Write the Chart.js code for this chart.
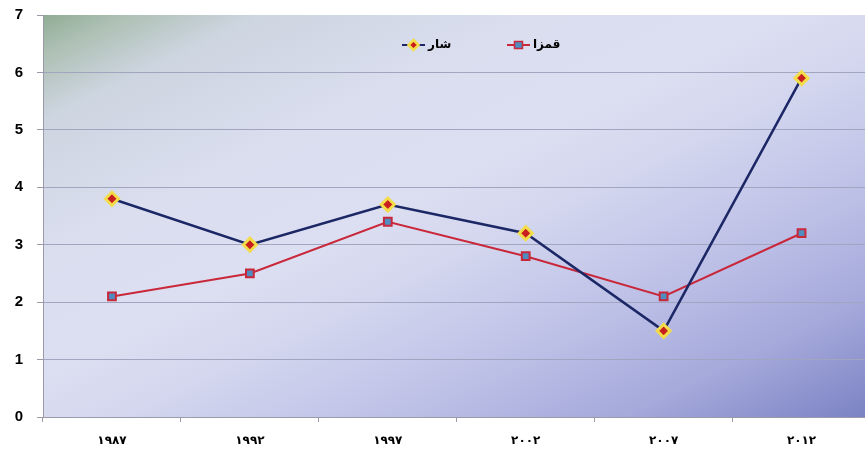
<!DOCTYPE html>
<html>
<head>
<meta charset="utf-8">
<script src="https://cdn.jsdelivr.net/npm/chart.js@4/dist/chart.umd.min.js"></script>
<style>
  html, body { margin: 0; padding: 0; background: #ffffff; overflow: hidden; }
  #wrap { width: 865px; height: 452px; overflow: hidden; position: relative; }
  #box { width: 880px; height: 452px; position: absolute; left: 0; top: 0; }
</style>
</head>
<body>
<div id="wrap"><div id="box"><canvas id="c"></canvas></div></div>
<script>
const categories = ['۱۹۸۷', '۱۹۹۲', '۱۹۹۷', '۲۰۰۲', '۲۰۰۷', '۲۰۱۲'];
const sharLabel = 'شار';
const sharValues = [3.8, 3.0, 3.7, 3.2, 1.5, 5.9];
const qamzaLabel = 'قمزا';
const qamzaValues = [2.1, 2.5, 3.4, 2.8, 2.1, 3.2];
const yMin = 0, yMax = 7, yStep = 1;

const NAVY = '#1c2766';
const RED = '#c8283a';
const YELLOW = '#f3dc4a';
const MARK_RED = '#c81e1e';
const STEEL = '#4f8cc0';

const bgPlugin = {
  id: 'bgPlugin',
  beforeDraw(chart) {
    const { ctx, chartArea: a } = chart;
    const W = a.right - a.left, H = a.bottom - a.top;
    const cx = a.left + W / 2, cy = a.top + H / 2;
    const k = W * H / (W * W + H * H);
    const g = ctx.createLinearGradient(cx - k * H, cy - k * W, cx + k * H, cy + k * W);
    g.addColorStop(0, '#8fac94');
    g.addColorStop(0.05, '#aec0b4');
    g.addColorStop(0.13, '#cdd5e0');
    g.addColorStop(0.3, '#dadeef');
    g.addColorStop(0.45, '#dcdff1');
    g.addColorStop(0.55, '#d3d6ee');
    g.addColorStop(0.7, '#bfc2e7');
    g.addColorStop(0.85, '#a5a9db');
    g.addColorStop(1, '#7b82c3');
    ctx.save();
    ctx.fillStyle = g;
    ctx.fillRect(a.left, a.top, W, H);
    ctx.restore();
  }
};

const legendPlugin = {
  id: 'legendPlugin',
  afterDraw(chart) {
    const { ctx } = chart;
    const items = [
      { label: sharLabel, x: 402, line: NAVY, style: 'diamond' },
      { label: qamzaLabel, x: 507, line: RED, style: 'square' }
    ];
    const y = 45;
    ctx.save();
    items.forEach(it => {
      ctx.strokeStyle = it.line;
      ctx.lineWidth = 2;
      ctx.beginPath();
      ctx.moveTo(it.x, y);
      ctx.lineTo(it.x + 23, y);
      ctx.stroke();
      const mx = it.x + 11.5;
      if (it.style === 'diamond') {
        ctx.beginPath();
        ctx.moveTo(mx, y - 5); ctx.lineTo(mx + 5, y); ctx.lineTo(mx, y + 5); ctx.lineTo(mx - 5, y); ctx.closePath();
        ctx.fillStyle = MARK_RED; ctx.fill();
        ctx.lineWidth = 2.5; ctx.strokeStyle = YELLOW; ctx.stroke();
      } else {
        ctx.fillStyle = STEEL;
        ctx.fillRect(mx - 4, y - 3.5, 8, 7);
        ctx.lineWidth = 1.5; ctx.strokeStyle = RED;
        ctx.strokeRect(mx - 4, y - 3.5, 8, 7);
      }
      ctx.fillStyle = '#000';
      ctx.font = 'bold 12px "DejaVu Sans"';
      ctx.textBaseline = 'middle';
      ctx.textAlign = 'left';
      ctx.fillText(it.label, it.x + 26, y);
    });
    ctx.restore();
  }
};

new Chart(document.getElementById('c'), {
  type: 'line',
  data: {
    labels: categories,
    datasets: [
      {
        label: sharLabel,
        data: sharValues,
        borderColor: NAVY,
        borderWidth: 2.5,
        pointStyle: 'rectRot',
        pointRadius: 6.5,
        pointBackgroundColor: MARK_RED,
        pointBorderColor: YELLOW,
        pointBorderWidth: 3,
        tension: 0,
        order: 0
      },
      {
        label: qamzaLabel,
        data: qamzaValues,
        borderColor: RED,
        borderWidth: 2,
        pointStyle: 'rect',
        pointRadius: 5.5,
        pointBackgroundColor: STEEL,
        pointBorderColor: RED,
        pointBorderWidth: 2,
        tension: 0,
        order: 1
      }
    ]
  },
  options: {
    responsive: true,
    maintainAspectRatio: false,
    animation: false,
    layout: { padding: { left: 0, top: 15, right: 5, bottom: 0 } },
    plugins: { legend: { display: false }, tooltip: { enabled: false } },
    scales: {
      x: {
        offset: true,
        afterFit(s) { s.height = 35; },
        border: { display: true, color: '#9a9aa8', width: 1 },
        grid: { display: true, drawOnChartArea: false, offset: true, tickLength: 5, color: '#9a9aa8' },
        ticks: { color: '#000', font: { family: '"DejaVu Sans"', weight: 'bold', size: 12 }, padding: 12, maxRotation: 0 }
      },
      y: {
        min: yMin, max: yMax,
        afterFit(s) { s.width = 43; s.paddingTop = 0; s.paddingBottom = 0; },
        border: { display: true, color: '#9a9aa8', width: 1 },
        grid: {
          color: (c) => (c.tick && (c.tick.value === yMin || c.tick.value === yMax)) ? 'rgba(0,0,0,0)' : '#a2a5bf',
          tickColor: '#9a9aa8',
          tickLength: 6,
          lineWidth: 1
        },
        ticks: { stepSize: yStep, color: '#000', font: { family: '"Liberation Sans"', weight: 'bold', size: 15 }, padding: 14 }
      }
    }
  },
  plugins: [bgPlugin, legendPlugin]
});
</script>
</body>
</html>
